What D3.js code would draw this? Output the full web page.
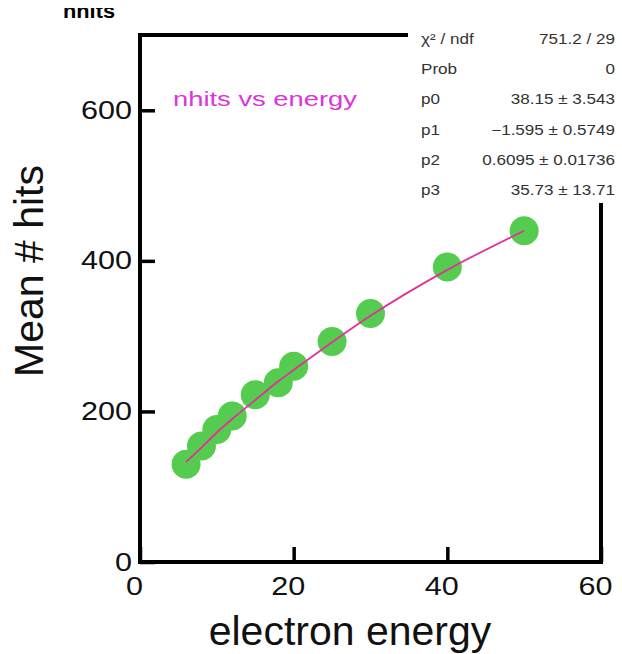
<!DOCTYPE html>
<html>
<head>
<meta charset="utf-8">
<script src="https://cdn.jsdelivr.net/npm/d3@7"></script>
<style>
  body { margin: 0; background: #fff; }
  text { font-family: "Liberation Sans", Arial, sans-serif; }
</style>
</head>
<body>
<div id="wrapper"></div>
<script>
// measured points (electron energy, mean number of hits)
const energy = [6, 8, 10, 12, 15, 18, 20, 25, 30, 40, 50];
const meanHits = [130, 154, 176, 194, 222, 238, 260, 293, 330, 392, 440];

// fit curve
const fitEnergy = [6, 8, 10, 12, 15, 18, 20, 25, 30, 40, 50];
const fitHits = [133, 152, 172, 190, 215, 240, 255, 292, 327, 388, 440];

const xTicks = [0, 20, 40, 60];
const yTicks = [0, 200, 400, 600];

const statLabels = ["χ² / ndf", "Prob", "p0", "p1", "p2", "p3"];
const statValues = ["751.2 / 29", "0", "38.15 ± 3.543", "−1.595 ± 0.5749", "0.6095 ± 0.01736", "35.73 ± 13.71"];

function buildPlot() {
    var dimension = {
        width: 622,
        height: 654,
        margin: { top: 35, left: 140, bottom: 92, right: 21 }
    };
    dimension.boundedWidth = dimension.width - dimension.margin.left - dimension.margin.right;
    dimension.boundedHeight = dimension.height - dimension.margin.top - dimension.margin.bottom;

    const svg = d3.select("#wrapper").append("svg")
        .attr("width", dimension.width)
        .attr("height", dimension.height);

    const xScaler = d3.scaleLinear().domain([0, 60]).range([0, dimension.boundedWidth]);
    const yScaler = d3.scaleLinear().domain([0, 700]).range([dimension.boundedHeight, 0]);

    const bounded = svg.append("g")
        .attr("transform", `translate(${dimension.margin.left},${dimension.margin.top})`);

    // frame
    bounded.append("rect")
        .attr("width", dimension.boundedWidth)
        .attr("height", dimension.boundedHeight)
        .attr("fill", "none")
        .attr("stroke", "#000")
        .attr("stroke-width", 4);

    const xAxis = d3.axisBottom(xScaler).tickValues(xTicks)
        .tickSizeInner(-15).tickSizeOuter(0).tickPadding(15);
    const gx = bounded.append("g")
        .attr("transform", `translate(0,${dimension.boundedHeight})`)
        .call(xAxis);

    const yAxis = d3.axisLeft(yScaler).tickValues(yTicks)
        .tickSizeInner(-15).tickSizeOuter(0).tickPadding(8);
    const gy = bounded.append("g").call(yAxis);

    [gx, gy].forEach(g => {
        g.select(".domain").remove();
        g.selectAll(".tick line").attr("stroke", "#000").attr("stroke-width", 3.5);
        g.selectAll(".tick text")
            .attr("fill", "#111")
            .style("font-size", "25px")
            .attr("textLength", d => String(d).length * 17)
            .attr("lengthAdjust", "spacingAndGlyphs");
    });
    gx.selectAll(".tick text").attr("x", -6);

    // fit curve
    const fitLine = d3.line()
        .x((d, i) => xScaler(fitEnergy[i]))
        .y(d => yScaler(d))
        .curve(d3.curveMonotoneX);

    bounded.selectAll("circle")
        .data(meanHits)
        .join("circle")
        .attr("cx", (d, i) => xScaler(energy[i]))
        .attr("cy", d => yScaler(d))
        .attr("r", 14.5)
        .attr("fill", "#55cc4f");

    bounded.append("path")
        .attr("d", fitLine(fitHits))
        .attr("fill", "none")
        .attr("stroke", "#e3309c")
        .attr("stroke-width", 1.8);

    // stats box
    const stats = svg.append("g");
    stats.append("rect")
        .attr("x", 408).attr("y", 18)
        .attr("width", 214).attr("height", 185)
        .attr("fill", "#fff");
    stats.selectAll(".lab")
        .data(statLabels)
        .join("text")
        .attr("class", "lab")
        .attr("x", 421)
        .attr("y", (d, i) => 44 + i * 30.2)
        .style("font-size", "14px")
        .attr("fill", "#333")
        .text(d => d);
    stats.selectAll(".val")
        .data(statValues)
        .join("text")
        .attr("class", "val")
        .attr("x", 615)
        .attr("y", (d, i) => 44 + i * 30.2)
        .attr("text-anchor", "end")
        .style("font-size", "14px")
        .attr("fill", "#333")
        .text(d => d);
    // the reference font is wider than Liberation Sans
    stats.selectAll("text").each(function () {
        const w = this.getComputedTextLength();
        d3.select(this).attr("textLength", w * 1.22).attr("lengthAdjust", "spacingAndGlyphs");
    });

    // titles
    svg.append("clipPath").attr("id", "topclip")
        .append("rect").attr("x", 0).attr("y", 8).attr("width", 300).attr("height", 30);
    svg.append("text")
        .attr("x", 63).attr("y", 18)
        .attr("clip-path", "url(#topclip)")
        .style("font-size", "20px")
        .style("font-weight", "bold")
        .attr("textLength", 52)
        .attr("lengthAdjust", "spacingAndGlyphs")
        .text("nhits");

    svg.append("text")
        .attr("x", 173).attr("y", 106)
        .attr("fill", "#dd33dd")
        .style("font-size", "20px")
        .attr("textLength", 184)
        .attr("lengthAdjust", "spacingAndGlyphs")
        .text("nhits vs energy");

    svg.append("text")
        .attr("x", 350).attr("y", 645)
        .attr("text-anchor", "middle")
        .attr("fill", "#111")
        .style("font-size", "41px")
        .text("electron energy");

    svg.append("text")
        .attr("transform", "translate(43,271) rotate(-90)")
        .attr("text-anchor", "middle")
        .attr("fill", "#111")
        .style("font-size", "41px")
        .text("Mean # hits");
}

buildPlot();
</script>
</body>
</html>
